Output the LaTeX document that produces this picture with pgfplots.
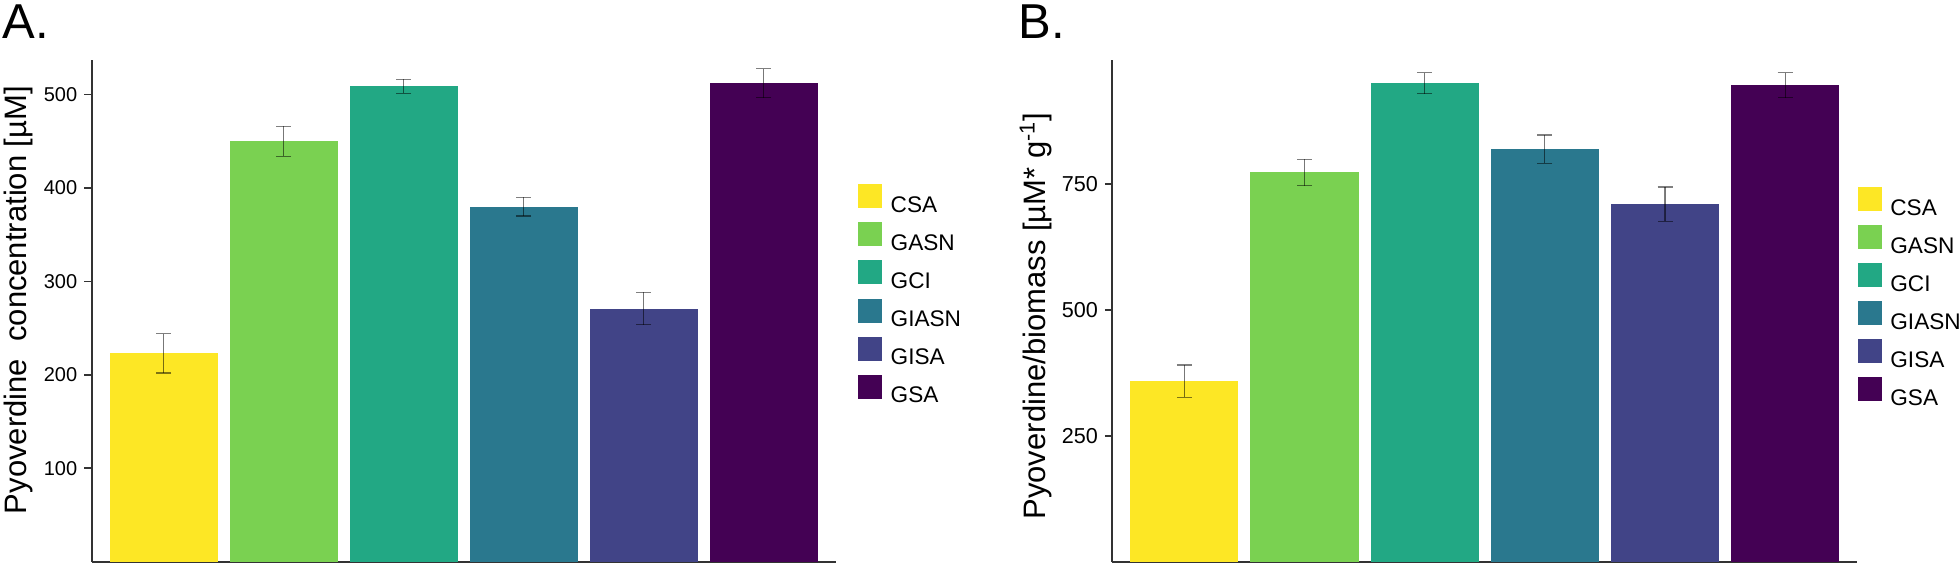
\documentclass[border=0pt]{standalone}
\usepackage{fontspec}
\setmainfont{Liberation Sans}
\usepackage{pgfplots}
\pgfplotsset{compat=1.18}

\definecolor{cCSA}{HTML}{FDE725}
\definecolor{cGASN}{HTML}{7AD151}
\definecolor{cGCI}{HTML}{22A884}
\definecolor{cGIASN}{HTML}{2A788E}
\definecolor{cGISA}{HTML}{414487}
\definecolor{cGSA}{HTML}{440154}

\pgfplotsset{
  panel/.style={
    scale only axis,
    anchor=south west,
    xmin=-0.6, xmax=5.6, ymin=0,
    axis x line=bottom, axis y line=left,
    axis line style={-, line width=1pt, black!80},
    xtick=\empty,
    tick align=outside,
    major tick length=3.7pt,
    ytick style={line width=0.8pt, black!80},
    ybar, bar width=0.9,
    /pgf/number format/assume math mode=true,
    legend cell align=left,
    legend image code/.code={\fill[##1] (0pt,-1.95pt) rectangle (12pt,10.05pt);},
    clip=false,
  },
  leg/.style={legend style={draw=none, fill=none, at={#1}, anchor=west,
      inner sep=0pt, outer sep=0pt, row sep=3pt, column sep=4.35pt,
      font=\fontsize{11.3}{12}\selectfont,
      nodes={inner sep=0pt, outer sep=0pt, text height=10.05pt, text depth=1.95pt}}},
  errb/.style={error bars/.cd, y dir=both, y explicit,
    error bar style={line width=0.6pt, black, opacity=0.5},
    error mark options={rotate=90, line width=0.6pt, black, opacity=0.5, mark size=3.75pt}},
}

\begin{document}
\begin{tikzpicture}
\path[use as bounding box] (0,0) rectangle (980pt,-282pt);
\node[anchor=base west, inner sep=0pt, font=\fontsize{24.5}{25}\selectfont] at (1pt,-19.15pt) {A.};
\node[anchor=base west, inner sep=0pt, font=\fontsize{24.5}{25}\selectfont] at (509pt,-19.15pt) {B.};

\begin{axis}[panel, at={(45.85pt,-280.85pt)}, width=372pt, height=250.85pt,
  ymax=537, ytick={100,200,300,400,500},
  yticklabel style={font=\fontsize{10}{11}\selectfont},
  ylabel={Pyoverdine\ \ concentration [µM]},
  every axis y label/.style={at={(axis description cs:-0.087,0.5216)}, rotate=90, anchor=base, font=\fontsize{15.5}{16}\selectfont},
  leg={(axis description cs:1.03,0.5306)},
]
\addplot[fill=cCSA, draw=none, bar shift=0pt, errb] coordinates {(0,223) +- (0,21)};
\addplot[fill=cGASN, draw=none, bar shift=0pt, errb] coordinates {(1,450) +- (0,16)};
\addplot[fill=cGCI, draw=none, bar shift=0pt, errb] coordinates {(2,509) +- (0,7.5)};
\addplot[fill=cGIASN, draw=none, bar shift=0pt, errb] coordinates {(3,380) +- (0,10)};
\addplot[fill=cGISA, draw=none, bar shift=0pt, errb] coordinates {(4,271) +- (0,17.5)};
\addplot[fill=cGSA, draw=none, bar shift=0pt, errb] coordinates {(5,512) +- (0,15.5)};
\legend{CSA,GASN,GCI,GIASN,GISA,GSA}
\end{axis}

\begin{axis}[panel, at={(556.15pt,-281pt)}, width=372.5pt, height=251pt,
  ymax=996, ytick={250,500,750},
  yticklabel style={font=\fontsize{10.8}{11}\selectfont},
  ylabel={Pyoverdine/biomass [µM* g\textsuperscript{-1}]},
  every axis y label/.style={at={(axis description cs:-0.0903,0.49)}, rotate=90, anchor=base, font=\fontsize{15.5}{16}\selectfont},
  leg={(axis description cs:1.0005,0.5255)},
]
\addplot[fill=cCSA, draw=none, bar shift=0pt, errb] coordinates {(0,359) +- (0,32)};
\addplot[fill=cGASN, draw=none, bar shift=0pt, errb] coordinates {(1,773) +- (0,26)};
\addplot[fill=cGCI, draw=none, bar shift=0pt, errb] coordinates {(2,950) +- (0,21)};
\addplot[fill=cGIASN, draw=none, bar shift=0pt, errb] coordinates {(3,819) +- (0,28)};
\addplot[fill=cGISA, draw=none, bar shift=0pt, errb] coordinates {(4,710) +- (0,34)};
\addplot[fill=cGSA, draw=none, bar shift=0pt, errb] coordinates {(5,946) +- (0,25)};
\legend{CSA,GASN,GCI,GIASN,GISA,GSA}
\end{axis}
\end{tikzpicture}
\end{document}
